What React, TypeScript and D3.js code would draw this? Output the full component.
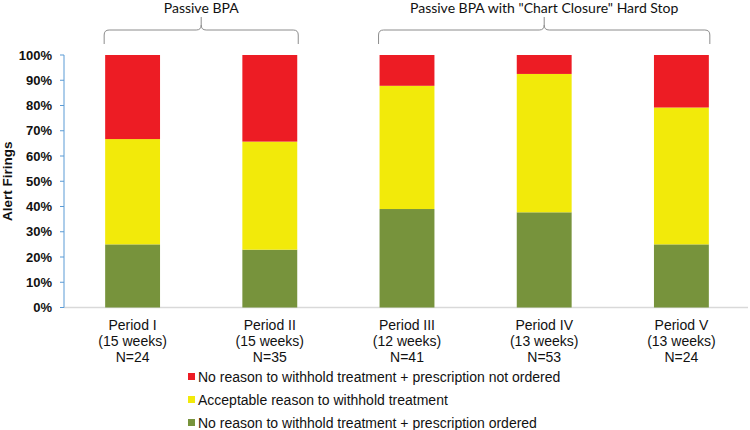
import React from "react";
import * as d3 from "d3";

const periods = ["Period I", "Period II", "Period III", "Period IV", "Period V"];
const durations = ["(15 weeks)", "(15 weeks)", "(12 weeks)", "(13 weeks)", "(13 weeks)"];
const counts = ["N=24", "N=35", "N=41", "N=53", "N=24"];
const ordered = [25.0, 22.9, 39.0, 37.7, 25.0];
const acceptable = [41.7, 42.8, 48.8, 54.8, 54.2];
const notOrdered = [33.3, 34.3, 12.2, 7.5, 20.8];
const seriesNames = [
  "No reason to withhold treatment + prescription ordered",
  "Acceptable reason to withhold treatment",
  "No reason to withhold treatment + prescription not ordered",
];
const seriesColors = ["#77933C", "#F2EA0A", "#ED1C24"];
const yTicks = [0, 10, 20, 30, 40, 50, 60, 70, 80, 90, 100];
const groups = [
  { label: "Passive BPA", from: 0, to: 1 },
  { label: 'Passive BPA with "Chart Closure" Hard Stop', from: 2, to: 4 },
];

export default function App() {
  const W = 750, H = 430;
  const x0 = 64, x1 = 750, yTop = 55, yBot = 307.5;
  const x = d3.scaleBand<string>().domain(periods).range([x0, x1]).paddingInner(0.6).paddingOuter(0.3);
  const y = d3.scaleLinear().domain([0, 100]).range([yBot, yTop]);
  const data = periods.map((p, i) => ({ p, s0: ordered[i], s1: acceptable[i], s2: notOrdered[i] }));
  const stack = d3.stack<any>().keys(["s0", "s1", "s2"]);
  const layers = stack(data);
  const font = "'Liberation Sans', Arial, sans-serif";
  const bw = x.bandwidth();

  const bracket = (xa: number, xb: number) => {
    const yh = 30, yb = 44, ym = 17, r = 5;
    const xm = (xa + xb) / 2;
    return `M${xa},${yb} L${xa},${yh + r} Q${xa},${yh} ${xa + r},${yh} L${xm - r},${yh} Q${xm},${yh} ${xm},${ym + 8} L${xm},${ym} M${xm},${ym + 8} Q${xm},${yh} ${xm + r},${yh} L${xb - r},${yh} Q${xb},${yh} ${xb},${yh + r} L${xb},${yb}`;
  };

  return (
    <svg width={W} height={H} style={{ position: "absolute", left: 0, top: 0, background: "#fff" }}>
      {groups.map((g, i) => {
        const xa = (x(periods[g.from]) as number) - 1;
        const xb = (x(periods[g.to]) as number) + bw + 1;
        return (
          <g key={i}>
            <path d={bracket(xa, xb)} fill="none" stroke="#8c8c8c" strokeWidth={1} />
            <text x={(xa + xb) / 2} y={13} textAnchor="middle" fontFamily="Lato, 'Open Sans', sans-serif" fontSize={14} fill="#111">
              {g.label}
            </text>
          </g>
        );
      })}
      <line x1={x0} x2={748} y1={yBot} y2={yBot} stroke="#d9d9d9" strokeWidth={1.5} />
      {layers.map((layer, li) => (
        <g key={li} fill={seriesColors[li]}>
          {layer.map((d, i) => (
            <rect key={i} x={x(periods[i])} y={y(d[1])} width={bw} height={y(d[0]) - y(d[1])} />
          ))}
        </g>
      ))}
      <line x1={x0} x2={x0} y1={yTop} y2={yBot} stroke="#5b9bd5" strokeWidth={1} />
      {yTicks.map((t) => (
        <g key={t}>
          <line x1={x0 - 4} x2={x0} y1={y(t)} y2={y(t)} stroke="#5b9bd5" strokeWidth={1} />
          <text x={52} y={y(t)} dy="0.35em" textAnchor="end" fontFamily={font} fontSize={13} fontWeight="bold" fill="#111">
            {t}%
          </text>
        </g>
      ))}
      <text transform={`translate(12,${(yTop + yBot) / 2}) rotate(-90)`} textAnchor="middle" fontFamily={font} fontSize={13.5} fontWeight="bold" fill="#111">
        Alert Firings
      </text>
      {periods.map((p, i) => {
        const cx = (x(p) as number) + bw / 2;
        return (
          <text key={p} x={cx} textAnchor="middle" fontFamily={font} fontSize={14} fill="#111">
            <tspan x={cx} y={330}>{p}</tspan>
            <tspan x={cx} y={346}>{durations[i]}</tspan>
            <tspan x={cx} y={362}>{counts[i]}</tspan>
          </text>
        );
      })}
      {[2, 1, 0].map((si, row) => (
        <g key={si}>
          <rect x={188} y={373 + row * 23} width={7} height={7} fill={seriesColors[si]} />
          <text x={198} y={377 + row * 23} dy="0.35em" fontFamily={font} fontSize={14} fill="#111">
            {seriesNames[si]}
          </text>
        </g>
      ))}
    </svg>
  );
}
